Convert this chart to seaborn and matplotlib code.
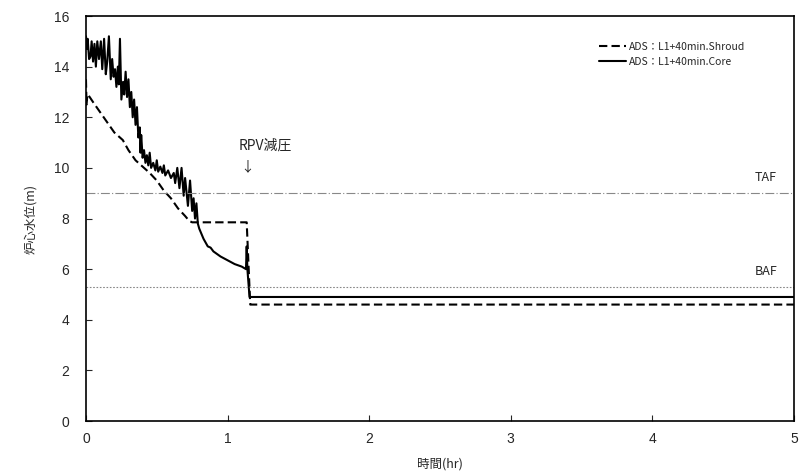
import matplotlib
matplotlib.use("Agg")
import matplotlib.pyplot as plt
import seaborn as sns
import pandas as pd

# Core (solid) water level
core_t = [0.000, 0.005, 0.012, 0.022, 0.032, 0.040, 0.050, 0.060, 0.070, 0.080,
          0.092, 0.105, 0.115, 0.128, 0.140, 0.150, 0.162, 0.175, 0.185, 0.195,
          0.205, 0.215, 0.225, 0.232, 0.240, 0.250, 0.262, 0.270, 0.280, 0.290,
          0.300, 0.310, 0.320, 0.330, 0.340, 0.350, 0.360, 0.370, 0.380, 0.385,
          0.390, 0.400, 0.410, 0.420, 0.430, 0.440, 0.450, 0.460, 0.475, 0.490,
          0.500, 0.510, 0.525, 0.540, 0.550, 0.560, 0.580, 0.600, 0.620, 0.630,
          0.645, 0.660, 0.675, 0.690, 0.700, 0.720, 0.735, 0.750, 0.760, 0.770,
          0.780, 0.790, 0.800, 0.830, 0.860, 0.880, 0.900, 0.950, 1.000, 1.050,
          1.100, 1.130, 1.135, 1.140, 1.155, 5.000]
core_v = [15.2, 14.7, 15.1, 14.3, 14.4, 15.0, 14.2, 14.9, 14.0, 15.0,
          14.3, 15.0, 13.9, 15.1, 13.7, 14.2, 15.2, 13.5, 14.3, 13.6,
          13.9, 13.2, 14.0, 13.3, 15.1, 12.7, 13.4, 12.9, 13.8, 12.8,
          13.5, 12.4, 13.0, 12.0, 12.7, 11.7, 12.4, 11.2, 11.6, 10.6,
          11.3, 10.4, 10.7, 10.2, 10.5, 10.1, 10.6, 10.0, 10.2, 9.9,
          10.3, 9.85, 10.05, 9.8, 10.1, 9.7, 9.9, 9.6, 9.8, 9.4,
          10.0, 9.2, 10.0, 8.9, 9.6, 8.5, 9.5, 8.3, 8.8, 8.0,
          8.6, 7.8, 7.6, 7.2, 6.9, 6.85, 6.7, 6.5, 6.35, 6.2,
          6.1, 6.0, 6.9, 6.0, 4.9, 4.9]

# Shroud (dashed) water level
shroud_t = [0.000, 0.004, 0.010, 0.020, 0.050, 0.100, 0.150, 0.200, 0.260, 0.300,
            0.350, 0.400, 0.450, 0.500, 0.550, 0.600, 0.650, 0.700, 0.730, 0.750,
            1.135, 1.160, 5.000]
shroud_v = [13.5, 12.5, 12.9, 12.85, 12.6, 12.2, 11.8, 11.4, 11.1, 10.7,
            10.3, 10.05, 9.8, 9.5, 9.1, 8.8, 8.4, 8.1, 7.9, 7.85,
            7.85, 4.6, 4.6]

taf = 9.0
baf = 5.3

sns.set_style("ticks")
plt.rcParams["font.family"] = ["Noto Sans CJK JP", "DejaVu Sans"]

fig = plt.figure(figsize=(8.05, 4.74), dpi=100)
ax = fig.add_axes([0.1068, 0.1118, 0.8795, 0.8544])

df_s = pd.DataFrame({"t": shroud_t, "v": shroud_v})
df_c = pd.DataFrame({"t": core_t, "v": core_v})

sns.lineplot(data=df_s, x="t", y="v", ax=ax, color="black", lw=1.5,
             linestyle=(0, (4, 2)), label="ADS：L1+40min.Shroud", sort=False)
sns.lineplot(data=df_c, x="t", y="v", ax=ax, color="black", lw=1.5,
             label="ADS：L1+40min.Core", sort=False)

ax.axhline(taf, color="#888888", lw=0.8, linestyle=(0, (8, 2, 1, 2)))
ax.axhline(baf, color="#888888", lw=0.8, linestyle=(0, (1.5, 1.5)))

ax.text(4.8, taf + 0.35, "TAF", fontsize=9, ha="center", va="bottom")
ax.text(4.8, baf + 0.35, "BAF", fontsize=9, ha="center", va="bottom")
ax.text(1.08, 10.6, "RPV減圧", fontsize=10, ha="left", va="bottom")
ax.text(1.14, 10.3, "↓", fontsize=10, ha="center", va="top")

ax.set_xlim(0, 5)
ax.set_ylim(0, 16)
ax.set_xticks([0, 1, 2, 3, 4, 5])
ax.set_yticks(range(0, 17, 2))
ax.tick_params(direction="in", length=4)
ax.tick_params(axis="x", pad=8)
ax.tick_params(axis="y", pad=12)
for lab in ax.get_xticklabels() + ax.get_yticklabels():
    lab.set_family(["Liberation Sans Narrow", "Liberation Sans"])
    lab.set_fontsize(10)
for s in ax.spines.values():
    s.set_linewidth(1.2)
    s.set_color("black")
    s.set_visible(True)

ax.set_xlabel("時間(hr)", fontsize=9, labelpad=8)
ax.set_ylabel("炉心水位(m)", fontsize=9, labelpad=12)

leg = ax.legend(loc="upper right", bbox_to_anchor=(0.945, 0.96), frameon=False,
                fontsize=7.5, handlelength=2.6, handletextpad=0.3, labelspacing=0.5)

fig.savefig("out.png", dpi=100)
